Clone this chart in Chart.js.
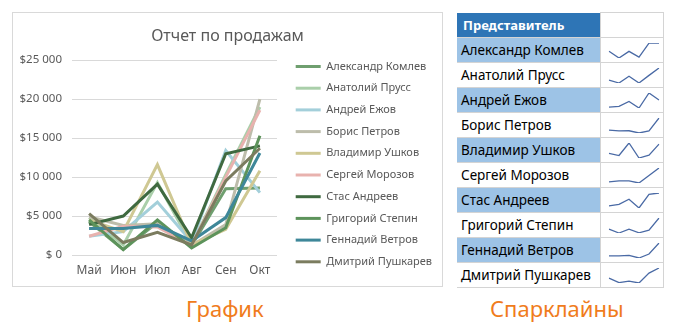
<!DOCTYPE html>
<html lang="ru">
<head>
<meta charset="UTF-8">
<title>Отчет по продажам</title>
<script src="https://cdn.jsdelivr.net/npm/chart.js@4.4.0/dist/chart.umd.min.js"></script>
<style>
  body { margin: 0; width: 679px; height: 335px; background: #fff; position: relative; overflow: hidden; font-family: "Noto Sans", sans-serif; }
  #box { position: absolute; left: 12px; top: 12px; width: 431px; height: 275px; border: 1px solid #d9d9d9; box-sizing: border-box; }
  #box canvas { display: block; }
  table { position: absolute; left: 457px; top: 12px; border-collapse: collapse; }
  td { padding: 0; height: 24px; border-top: 1px solid #d4d4d4; border-bottom: 1px solid #d4d4d4; }
  td.name { width: 143px; font-size: 13.5px; color: #000; padding-left: 4px; box-sizing: border-box; }
  td.spark { width: 62px; border-left: 1px solid #d4d4d4; border-right: 1px solid #d4d4d4; }
  td.spark canvas { display: block; }
  tr.hl td.name { background: #9dc3e6; }
  th { height: 24px; padding: 0 0 0 6px; text-align: left; background: #2e75b6; color: #fff; font-size: 13px; font-weight: bold; }
  th.empty { background: #fff; border: 1px solid #d4d4d4; }
  .cap { position: absolute; top: 293px; color: #f07c1c; font-size: 22px; }
</style>
</head>
<body>
<div id="box"><canvas id="chart" width="429" height="273"></canvas></div>
<table id="tbl"><tr><th>Представитель</th><th class="empty"></th></tr></table>
<div class="cap" style="left:186px">График</div>
<div class="cap" style="left:490px">Спарклайны</div>
<script>
// months and sales reps
const months = ['Май', 'Июн', 'Июл', 'Авг', 'Сен', 'Окт'];
const reps = ['Александр Комлев', 'Анатолий Прусс', 'Андрей Ежов', 'Борис Петров', 'Владимир Ушков',
              'Сергей Морозов', 'Стас Андреев', 'Григорий Степин', 'Геннадий Ветров', 'Дмитрий Пушкарев'];

// sales per rep, $
const komlev   = [4300, 700, 4200, 1200, 8500, 8600];
const pruss    = [4800, 1300, 9300, 1300, 10300, 19000];
const ezhov    = [2400, 3000, 6800, 1700, 13400, 8000];
const petrov   = [4900, 3800, 4000, 1200, 3900, 20000];
const ushkov   = [4500, 3000, 11600, 1300, 3300, 10800];
const morozov  = [2400, 3700, 3600, 1200, 10000, 18600];
const andreev  = [3900, 5000, 9100, 2200, 13000, 14000];
const stepin   = [4500, 700, 4500, 900, 3500, 15300];
const vetrov   = [3400, 3400, 3800, 1800, 4800, 13100];
const pushkarev = [5300, 1600, 2900, 1300, 9500, 13700];

const series = [komlev, pruss, ezhov, petrov, ushkov, morozov, andreev, stepin, vetrov, pushkarev];
const colors = ['#6f9f6f', '#aacfaa', '#a3cfda', '#bdbdab', '#cfc893',
                '#e8b2ae', '#3f6a40', '#5d935b', '#3e8799', '#7b7c5f'];

const yTicks = [0, 5000, 10000, 15000, 20000, 25000];

const grey = '#595959';
const font = 'Noto Sans';

new Chart(document.getElementById('chart'), {
  type: 'line',
  data: {
    labels: months,
    datasets: series.map((d, i) => ({
      label: reps[i],
      data: d,
      borderColor: colors[i],
      backgroundColor: colors[i],
      borderWidth: 3,
      pointRadius: 0,
      tension: 0,
      fill: false,
      order: 10 - i // excel draws the last series on top
    }))
  },
  options: {
    responsive: false,
    devicePixelRatio: 1,
    animation: false,
    layout: { padding: { left: 0, right: 0, top: 0, bottom: 8 } },
    plugins: {
      title: {
        display: true,
        text: 'Отчет по продажам',
        color: grey,
        font: { family: font, size: 16, weight: 'normal' },
        padding: { top: 14, bottom: 14 }
      },
      legend: {
        position: 'right',
        align: 'end',
        maxWidth: 200,
        labels: {
          usePointStyle: true,
          pointStyle: 'line',
          pointStyleWidth: 25,
          color: grey,
          font: { family: font, size: 11 },
          padding: 10.7,
          sort: (a, b) => a.datasetIndex - b.datasetIndex
        }
      },
      tooltip: { enabled: false }
    },
    scales: {
      x: {
        offset: true,
        grid: { display: false, drawTicks: false },
        border: { display: false },
        ticks: { color: grey, font: { family: font, size: 12 }, padding: 8 },
        afterFit: s => { s.height = 23; }
      },
      y: {
        min: 0,
        max: 25000,
        afterBuildTicks: ax => { ax.ticks = yTicks.map(v => ({ value: v })); },
        afterFit: s => { s.width = 59; },
        grid: { color: '#d9d9d9', drawTicks: false },
        border: { display: false },
        ticks: {
          color: grey,
          font: { family: font, size: 11.5 },
          padding: 10,
          callback: v => v === 0 ? '$ 0' : '$' + (v / 1000) + ' 000'
        }
      },
      // empty axis, only keeps a gap between the plot and the legend
      gap: {
        position: 'right',
        grid: { display: false },
        border: { display: false },
        ticks: { display: false },
        afterFit: s => { s.width = 8; }
      }
    }
  }
});

// table with sparklines
const tbl = document.getElementById('tbl');
reps.forEach((name, i) => {
  const tr = document.createElement('tr');
  if (i % 2 === 0) tr.className = 'hl';
  tr.innerHTML = '<td class="name">' + name + '</td><td class="spark"><canvas width="61" height="24"></canvas></td>';
  tbl.appendChild(tr);
  const d = series[i];
  new Chart(tr.querySelector('canvas'), {
    type: 'line',
    data: { labels: months, datasets: [{ data: d, borderColor: '#4a6aa5', borderWidth: 1.3, pointRadius: 0, tension: 0 }] },
    options: {
      responsive: false,
      devicePixelRatio: 1,
      animation: false,
      layout: { padding: { left: 8, right: 3, top: 5, bottom: 4 } },
      plugins: { legend: { display: false }, tooltip: { enabled: false } },
      scales: {
        x: { display: false, offset: false },
        y: { display: false, min: Math.min(...d), max: Math.max(...d) }
      }
    }
  });
});
</script>
</body>
</html>
